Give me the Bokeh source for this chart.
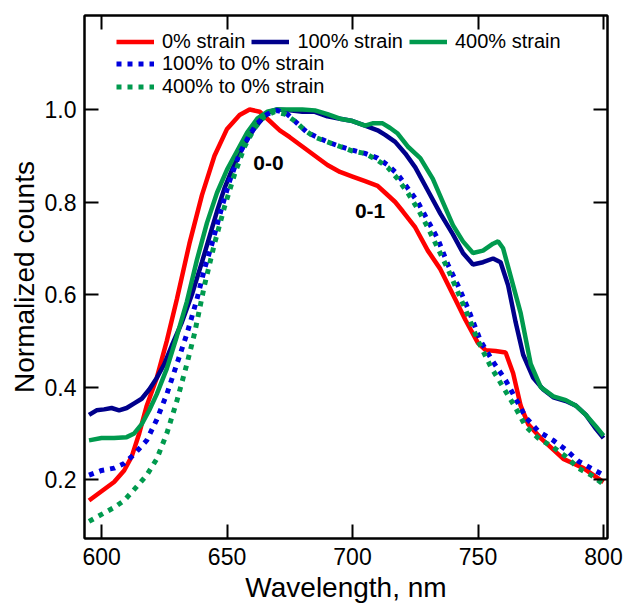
from bokeh.plotting import figure
from bokeh.models import (Range1d, FixedTicker, LinearAxis, Legend, LegendItem, Label, PrintfTickFormatter)
from bokeh.embed import file_html
from bokeh.resources import INLINE

# ---- data ----
red_x = [595, 600, 605, 609, 612, 615, 618, 622, 626, 630, 635, 640, 645, 650, 655, 659, 663, 667, 671, 675,
         680, 685, 690, 695, 700, 705, 710, 713, 717, 720, 725, 730, 735, 740, 745, 750, 753, 757, 761, 764,
         767, 770, 775, 780, 784, 788, 792, 796, 800]
red_y = [0.155, 0.175, 0.195, 0.22, 0.25, 0.30, 0.36, 0.42, 0.50, 0.59, 0.71, 0.815, 0.90, 0.958, 0.988, 1.0, 0.995,
         0.975, 0.955, 0.94, 0.92, 0.90, 0.88, 0.865, 0.855, 0.845, 0.835, 0.82, 0.80, 0.78, 0.745, 0.695, 0.655,
         0.60, 0.545, 0.495, 0.48, 0.478, 0.475, 0.43, 0.36, 0.32, 0.29, 0.265, 0.245, 0.235, 0.225, 0.21, 0.195]

navy_x = [595, 598, 601, 604, 607, 610, 613, 616, 619, 622, 625, 628, 632, 636, 640, 643, 646, 649, 652, 655,
          658, 661, 664, 667, 670, 675, 680, 685, 690, 695, 700, 705, 710, 713, 717, 721, 725, 730, 735, 740,
          744, 748, 752, 756, 759, 762, 765, 768, 772, 776, 780, 785, 789, 793, 797, 800]
navy_y = [0.34, 0.35, 0.352, 0.355, 0.35, 0.355, 0.365, 0.375, 0.395, 0.42, 0.45, 0.49, 0.54, 0.60, 0.67, 0.725,
          0.78, 0.83, 0.87, 0.905, 0.935, 0.96, 0.98, 0.995, 1.0, 0.998, 0.995, 0.995, 0.985, 0.98, 0.975, 0.965,
          0.955, 0.945, 0.93, 0.905, 0.875, 0.825, 0.775, 0.73, 0.69, 0.665, 0.67, 0.678, 0.67, 0.62, 0.54, 0.47,
          0.42, 0.395, 0.378, 0.37, 0.36, 0.34, 0.31, 0.29]

green_x = [595, 600, 605, 610, 613, 616, 619, 622, 626, 630, 634, 638, 642, 646, 650, 654, 658, 662, 666, 670,
           675, 680, 685, 690, 695, 700, 705, 708, 712, 715, 718, 722, 727, 732, 736, 740, 744, 748, 752, 756,
           758, 760, 763, 767, 771, 775, 780, 785, 789, 793, 797, 800]
green_y = [0.285, 0.29, 0.29, 0.292, 0.30, 0.32, 0.35, 0.385, 0.44, 0.51, 0.585, 0.675, 0.755, 0.82, 0.87, 0.91,
           0.95, 0.98, 0.995, 1.0, 1.0, 1.0, 0.998, 0.99, 0.98, 0.975, 0.965, 0.97, 0.97, 0.96, 0.948, 0.92, 0.895,
           0.85, 0.80, 0.75, 0.715, 0.69, 0.695, 0.71, 0.715, 0.70, 0.64, 0.56, 0.45, 0.40, 0.38, 0.372, 0.36,
           0.34, 0.315, 0.295]

blue_dot_x = [595, 600, 605, 609, 613, 618, 622, 626, 630, 634, 638, 641, 644, 648, 651, 655, 659, 662, 666, 670,
              674, 678, 682, 686, 690, 695, 700, 705, 710, 714, 718, 722, 726, 730, 734, 738, 742, 746, 751, 756,
              761, 765, 769, 774, 780, 785, 790, 795, 800]
blue_dot_y = [0.21, 0.22, 0.225, 0.235, 0.255, 0.285, 0.33, 0.385, 0.45, 0.515, 0.59, 0.655, 0.71, 0.79, 0.845,
              0.905, 0.945, 0.97, 0.99, 0.998, 0.99, 0.97, 0.95, 0.94, 0.93, 0.92, 0.912, 0.905, 0.895, 0.88, 0.86,
              0.83, 0.80, 0.76, 0.72, 0.665, 0.62, 0.57, 0.50, 0.455, 0.415, 0.375, 0.335, 0.305, 0.285, 0.265,
              0.24, 0.225, 0.21]

green_dot_x = [595, 600, 605, 609, 614, 618, 622, 626, 630, 634, 637, 641, 645, 649, 653, 657, 661, 665, 669, 673,
               677, 681, 685, 690, 695, 700, 705, 710, 714, 718, 722, 726, 730, 734, 738, 742, 746, 750, 755, 760,
               765, 769, 774, 780, 785, 790, 795, 800]
green_dot_y = [0.11, 0.125, 0.14, 0.155, 0.185, 0.21, 0.245, 0.30, 0.37, 0.45, 0.515, 0.62, 0.71, 0.79, 0.86, 0.92,
               0.96, 0.985, 0.995, 0.99, 0.975, 0.955, 0.94, 0.93, 0.92, 0.91, 0.905, 0.89, 0.875, 0.85, 0.82, 0.785,
               0.745, 0.70, 0.655, 0.605, 0.555, 0.50, 0.445, 0.40, 0.355, 0.315, 0.29, 0.27, 0.25, 0.225, 0.21, 0.19]

x_ticks = [600, 650, 700, 750, 800]
y_ticks = [0.2, 0.4, 0.6, 0.8, 1.0]
labels_row1 = ["0% strain", "100% strain", "400% strain"]
labels_row2 = ["100% to 0% strain", "400% to 0% strain"]

FONT = "Liberation Sans"
RED = "#ff0000"
NAVY = "#00008b"
GREEN = "#009a4e"
BLUE = "#0000dd"

p = figure(width=626, height=609, output_backend="svg", toolbar_location=None,
           x_range=Range1d(593.2, 801.6), y_range=Range1d(0.073, 1.203),
           min_border_left=84, min_border_right=19, min_border_top=15, min_border_bottom=71)
p.grid.visible = False
p.background_fill_color = "white"
p.border_fill_color = "white"
p.outline_line_color = "black"
p.outline_line_width = 2

r_red = p.line(red_x, red_y, line_color=RED, line_width=4.5)
r_navy = p.line(navy_x, navy_y, line_color=NAVY, line_width=4.5)
r_green = p.line(green_x, green_y, line_color=GREEN, line_width=4.5)
r_bd = p.line(blue_dot_x, blue_dot_y, line_color=BLUE, line_width=5, line_dash="5 6")
r_gd = p.line(green_dot_x, green_dot_y, line_color=GREEN, line_width=5, line_dash="5 6")

xa = p.xaxis[0]
xa.ticker = FixedTicker(ticks=x_ticks)
ya = p.yaxis[0]
ya.ticker = FixedTicker(ticks=y_ticks)
ya.formatter = PrintfTickFormatter(format="%.1f")
for ax in (xa, ya):
    ax.major_tick_in = 14
    ax.major_tick_out = 0
    ax.minor_tick_line_color = None
    ax.major_tick_line_width = 2
    ax.axis_line_width = 2
    ax.major_label_text_font = FONT
    ax.major_label_text_font_size = "23px"
    ax.major_label_text_color = "black"
    ax.axis_label_text_font = FONT
    ax.axis_label_text_font_style = "normal"
    ax.axis_label_text_color = "black"
    ax.axis_label_text_font_size = "28px"

xa.axis_label = "Wavelength, nm"
xa.major_label_standoff = 9
xa.axis_label_standoff = 4
ya.axis_label = "Normalized counts"
ya.major_label_standoff = 8
ya.axis_label_standoff = 2

top = LinearAxis(ticker=FixedTicker(ticks=x_ticks))
right = LinearAxis(ticker=FixedTicker(ticks=y_ticks))
for ax in (top, right):
    ax.major_tick_in = 14
    ax.major_tick_out = 0
    ax.minor_tick_line_color = None
    ax.major_tick_line_width = 2
    ax.axis_line_width = 2
    ax.major_label_text_font_size = "1px"
    ax.major_label_text_color = None
    ax.major_label_standoff = 0
p.add_layout(top, "above")
p.add_layout(right, "right")

legend_common = dict(label_text_font=FONT, label_text_font_size="20px", label_text_color="black",
                     glyph_width=38, glyph_height=23, label_height=23, label_standoff=8,
                     padding=0, margin=0, border_line_color=None, background_fill_alpha=0)

leg1 = Legend(items=[LegendItem(label=labels_row1[0], renderers=[r_red]),
                     LegendItem(label=labels_row1[1], renderers=[r_navy]),
                     LegendItem(label=labels_row1[2], renderers=[r_green])],
              orientation="horizontal", location=(32, 485), spacing=6, **legend_common)
leg2 = Legend(items=[LegendItem(label=labels_row2[0], renderers=[r_bd]),
                     LegendItem(label=labels_row2[1], renderers=[r_gd])],
              orientation="vertical", location=(32, 440), spacing=0, **legend_common)
p.add_layout(leg1)
p.add_layout(leg2)

for txt, lx, ly in (("0-0", 666.5, 0.885), ("0-1", 707, 0.78)):
    p.add_layout(Label(x=lx, y=ly, text=txt, text_font=FONT, text_font_size="21px", text_font_style="bold",
                       text_align="center", text_baseline="middle", text_color="black"))

open("out.html", "w").write(file_html(p, INLINE))
